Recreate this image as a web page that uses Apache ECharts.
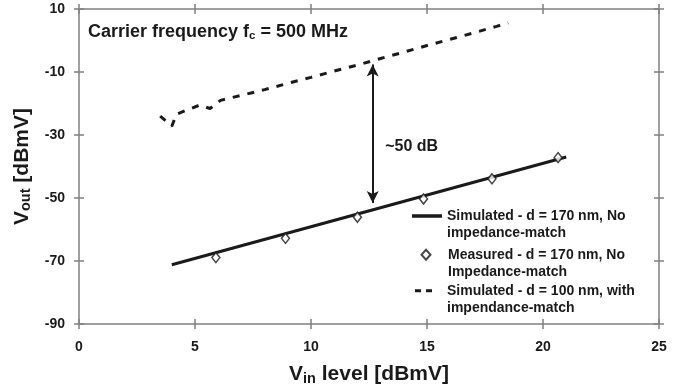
<!DOCTYPE html>
<html>
<head>
<meta charset="utf-8">
<script src="https://cdn.jsdelivr.net/npm/echarts@6/dist/echarts.min.js"></script>
<style>html,body{margin:0;padding:0;background:#fff}#c{width:688px;height:392px}</style>
</head>
<body>
<div id="c"></div>
<script>
// ---- data ----
const simSolidX = [4, 21];
const simSolidY = [-71.2, -37];
const measuredX = [5.9, 8.9, 12.0, 14.85, 17.8, 20.65];
const measuredY = [-68.9, -62.8, -56.1, -50.3, -43.9, -37.2];
const simDashX = [3.5, 4.0, 4.2, 4.75, 5.2, 5.65, 6.1, 7, 8, 9, 10, 11, 12, 13, 14, 15, 16, 17, 18, 18.5];
const simDashY = [-24, -27.2, -23.4, -21.8, -20.5, -21.6, -19, -17.4, -15.6, -13.6, -11.7, -9.7, -7.8, -5.7, -3.7, -1.6, 0.4, 2.4, 4.5, 5.6];
const arrowX = 12.66;
const arrowY = [-7.6, -51.6];
const arrowLabel = '~50 dB';
const xTicks = [0, 5, 10, 15, 20, 25];
const yTicks = [-90, -70, -50, -30, -10, 10];
const names = [
  'Simulated - d = 170 nm, No\nimpedance-match',
  'Measured - d = 170 nm, No\nImpedance-match',
  'Simulated - d = 100 nm, with\nimpendance-match'
];

const zip = (a, b) => a.map((v, i) => [v, b[i]]);
const FONT = '"Liberation Sans", Arial, sans-serif';
const AX = '#808080';
const INK = '#1a1a1a';

function axisPair(kind, pos, showLabel) {
  const base = {
    type: 'value', position: pos, min: kind === 'x' ? xTicks[0] : yTicks[0],
    max: kind === 'x' ? xTicks[xTicks.length - 1] : yTicks[yTicks.length - 1],
    interval: kind === 'x' ? 5 : 20,
    splitLine: { show: false },
    axisLine: { show: true, onZero: false, lineStyle: { color: AX, width: 1.5 } },
    axisTick: { show: true, inside: false, length: 5, lineStyle: { color: AX, width: 1.5 } },
    axisLabel: { show: false }
  };
  const a = JSON.parse(JSON.stringify(base));
  const b = JSON.parse(JSON.stringify(base));
  b.axisTick.inside = true;
  b.axisLine.show = false;
  if (showLabel) {
    a.axisLabel = { show: true, fontFamily: FONT, fontWeight: 'bold', fontSize: 14, color: INK, margin: kind === 'x' ? 16 : 14 };
  }
  return [a, b];
}

const nameRich = {
  rich: {
    v: { fontFamily: FONT, fontWeight: 'bold', fontSize: 21, color: INK, lineHeight: 25 },
    s: { fontFamily: FONT, fontWeight: 'bold', fontSize: 14.5, color: INK, lineHeight: 25, padding: [9, 0, 0, 0] }
  }
};
const xAxes = [...axisPair('x', 'bottom', true), ...axisPair('x', 'top', false)];
const yAxes = [...axisPair('y', 'left', true), ...axisPair('y', 'right', false)];
xAxes[0].name = '{v|V}{s|in}{v| level [dBmV]}';
xAxes[0].nameLocation = 'middle';
xAxes[0].nameGap = 38;
xAxes[0].nameTextStyle = nameRich;
yAxes[0].name = '{v|V}{s|out}{v| [dBmV]}';
yAxes[0].nameLocation = 'middle';
yAxes[0].nameGap = 43;
yAxes[0].nameTextStyle = nameRich;

const legendBase = {
  itemWidth: 30, itemHeight: 35, itemGap: 0, orient: 'vertical', padding: 0,
  selectedMode: false,
  textStyle: { fontFamily: FONT, fontWeight: 'bold', fontSize: 14, color: INK, lineHeight: 17.5 }
};
const icons = [
  'path://M0,0 M0,7.25h30v3.5h-30z M30,35',
  'path://M0,0 M13,3.75 L17.5,8.75 L13,13.75 L8.5,8.75 Z M30,35',
  'path://M0,0 M3,7.25h6v3h-6z M14,7.25h6v3h-6z M30,35'
];

const option = {
  animation: false,
  grid: { left: 79, right: 29, top: 9, bottom: 68 },
  title: {
    text: '{t|Carrier frequency f}{s|c}{t| = 500 MHz}',
    left: 83, top: 16,
    textStyle: {
      rich: {
        t: { fontFamily: FONT, fontWeight: 'bold', fontSize: 18, color: INK, lineHeight: 22 },
        s: { fontFamily: FONT, fontWeight: 'bold', fontSize: 11.5, color: INK, lineHeight: 22, padding: [8, 0, 0, 0] }
      }
    }
  },
  legend: [
    Object.assign({}, legendBase, { left: 412, top: 207, data: [{ name: names[0], icon: icons[0] }] }),
    Object.assign({}, legendBase, { left: 412, top: 245, data: [{ name: names[1], icon: icons[1] }] }),
    Object.assign({}, legendBase, { left: 412, top: 282, data: [{ name: names[2], icon: icons[2] }] })
  ],
  xAxis: xAxes,
  yAxis: yAxes,
  series: [
    {
      name: names[0], type: 'line', data: zip(simSolidX, simSolidY), symbol: 'none',
      lineStyle: { color: INK, width: 3 }, itemStyle: { color: INK }, z: 3
    },
    {
      name: names[1], type: 'scatter', data: zip(measuredX, measuredY), symbol: 'diamond', symbolSize: [8, 10],
      itemStyle: { color: '#fff', borderColor: INK, borderWidth: 1.5 }, z: 4
    },
    {
      name: names[2], type: 'line', data: zip(simDashX, simDashY), symbol: 'none',
      lineStyle: { color: INK, width: 3, type: [7, 8] }, itemStyle: { color: INK }, z: 3,
      markLine: {
        silent: true, symbol: ['arrow', 'arrow'], symbolSize: [9, 12],
        lineStyle: { color: INK, width: 2, type: 'solid' },
        label: { show: false },
        data: [[{ coord: [arrowX, arrowY[0]] }, { coord: [arrowX, arrowY[1]] }]]
      },
      markPoint: {
        silent: true, symbol: 'circle', symbolSize: 0,
        label: { show: true, position: 'right', distance: 0, formatter: arrowLabel, fontFamily: FONT, fontWeight: 'bold', fontSize: 16, color: INK },
        data: [{ coord: [13.2, -33.6] }]
      }
    }
  ]
};

const chart = echarts.init(document.getElementById('c'), null, { renderer: 'canvas' });
chart.setOption(option);
</script>
</body>
</html>
